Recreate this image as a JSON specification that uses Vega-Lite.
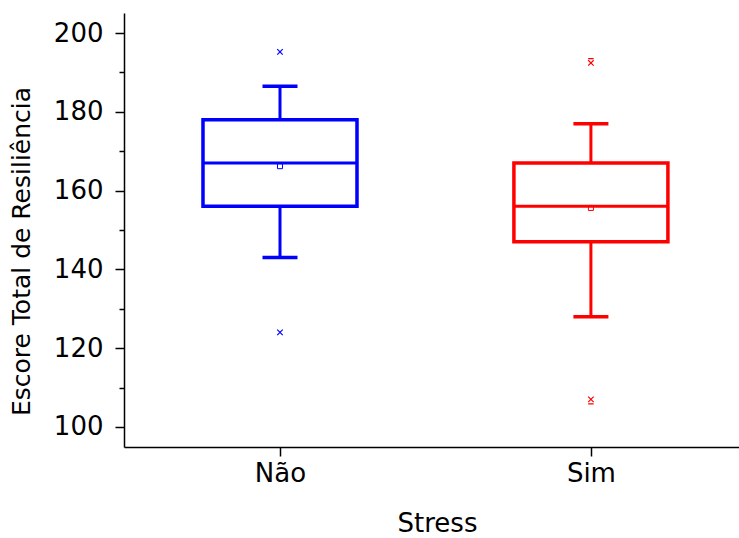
{
  "$schema": "https://vega.github.io/schema/vega-lite/v6.json",
  "autosize": "none",
  "width": 615,
  "height": 434,
  "padding": {"left": 124, "top": 13, "right": 0, "bottom": 91},
  "background": "white",
  "config": {
    "view": {"stroke": null},
    "font": "DejaVu Sans",
    "axis": {
      "domainColor": "black",
      "domainWidth": 1.5,
      "tickColor": "black",
      "tickWidth": 1.5,
      "labelColor": "black",
      "titleColor": "black",
      "labelFont": "DejaVu Sans",
      "titleFont": "DejaVu Sans",
      "titleFontWeight": "normal",
      "grid": false
    }
  },
  "data": {
    "values": [
      {"stress": "Não", "lower": 143, "q1": 156, "median": 167, "q3": 178, "upper": 186.5, "mean": 166.2, "min": 124, "max": 195.2},
      {"stress": "Sim", "lower": 128, "q1": 147, "median": 156, "q3": 167, "upper": 177, "mean": 155.6, "min": 107, "max": 192.4}
    ]
  },
  "encoding": {
    "x": {
      "field": "stress",
      "type": "nominal",
      "scale": {"type": "point", "padding": 0.489, "align": 0.513},
      "axis": {
        "title": "Stress",
        "labelAngle": 0,
        "labelFontSize": 26,
        "titleFontSize": 26,
        "tickSize": 9,
        "labelPadding": 4,
        "titlePadding": 24,
        "titleX": 313
      }
    },
    "color": {
      "field": "stress",
      "type": "nominal",
      "scale": {"domain": ["Não", "Sim"], "range": ["#0000ff", "#ff0000"]},
      "legend": null
    }
  },
  "layer": [
    {
      "mark": {"type": "rule", "strokeWidth": 3},
      "encoding": {
        "y": {
          "field": "lower",
          "type": "quantitative",
          "scale": {"domain": [94.92, 205.08], "nice": false, "zero": false},
          "axis": {
            "title": "Escore Total de Resiliência",
            "values": [100, 110, 120, 130, 140, 150, 160, 170, 180, 190, 200],
            "labelExpr": "datum.value % 20 === 0 ? datum.label : ''",
            "tickSize": {"condition": {"test": "datum.value % 20 === 0", "value": 9}, "value": 5},
            "labelFontSize": 26,
            "titleFontSize": 25,
            "labelPadding": 12,
            "titlePadding": 19,
            "titleY": 238
          }
        },
        "y2": {"field": "upper"}
      }
    },
    {
      "mark": {"type": "bar", "fill": "white", "strokeWidth": 3.5, "size": 154},
      "encoding": {
        "y": {"field": "q1", "type": "quantitative"},
        "y2": {"field": "q3"},
        "stroke": {"field": "stress", "type": "nominal", "scale": {"domain": ["Não", "Sim"], "range": ["#0000ff", "#ff0000"]}, "legend": null}
      }
    },
    {
      "mark": {"type": "tick", "thickness": 3, "size": 155, "opacity": 1},
      "encoding": {"y": {"field": "median", "type": "quantitative"}}
    },
    {
      "mark": {"type": "tick", "thickness": 3.5, "size": 35, "opacity": 1},
      "encoding": {"y": {"field": "lower", "type": "quantitative"}}
    },
    {
      "mark": {"type": "tick", "thickness": 3.5, "size": 35, "opacity": 1},
      "encoding": {"y": {"field": "upper", "type": "quantitative"}}
    },
    {
      "mark": {"type": "point", "shape": "square", "filled": false, "size": 25, "strokeWidth": 1, "opacity": 1},
      "encoding": {"y": {"field": "mean", "type": "quantitative"}}
    },
    {
      "mark": {"type": "point", "filled": false, "size": 30, "strokeWidth": 1.2, "opacity": 1},
      "encoding": {
        "y": {"field": "min", "type": "quantitative"},
        "shape": {"field": "stress", "type": "nominal", "scale": {"domain": ["Não", "Sim"], "range": ["M-1,-1L1,1M-1,1L1,-1", "M-1,-1L1,1M-1,1L1,-1M-1,1.6L1,1.6"]}, "legend": null}
      }
    },
    {
      "mark": {"type": "point", "filled": false, "size": 30, "strokeWidth": 1.2, "opacity": 1},
      "encoding": {
        "y": {"field": "max", "type": "quantitative"},
        "shape": {"field": "stress", "type": "nominal", "scale": {"domain": ["Não", "Sim"], "range": ["M-1,-1L1,1M-1,1L1,-1", "M-1,-1L1,1M-1,1L1,-1M-1,-1.6L1,-1.6"]}, "legend": null}
      }
    }
  ],
  "resolve": {"scale": {"shape": "independent"}}
}
